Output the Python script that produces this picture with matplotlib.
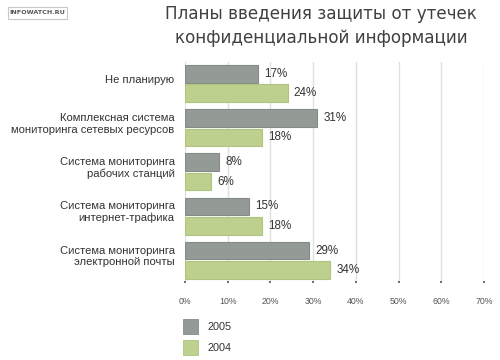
import matplotlib
matplotlib.use("Agg")
import matplotlib.pyplot as plt
from matplotlib.patches import Rectangle

categories = [
    "Не планирую",
    "Комплексная система\nмониторинга сетевых ресурсов",
    "Система мониторинга\nрабочих станций",
    "Система мониторинга\nинтернет-трафика",
    "Система мониторинга\nэлектронной почты",
]
values_2005 = [17, 31, 8, 15, 29]
values_2004 = [24, 18, 6, 18, 34]
series_names = ["2005", "2004"]
xticks = [0, 10, 20, 30, 40, 50, 60, 70]
xtick_labels = ["0%", "10%", "20%", "30%", "40%", "50%", "60%", "70%"]
title = "Планы введения защиты от утечек\nконфиденциальной информации"

C_GRAY = "#949b96"
C_GRAY_E = "#858c87"
C_GREEN = "#bdd08e"
C_GREEN_E = "#b0c47f"

W, H = 500, 360
fig = plt.figure(figsize=(5, 3.6), dpi=100)
fig.patch.set_facecolor("white")

ax_l, ax_r, ax_t, ax_b = 185, 484, 62, 281
ax = fig.add_axes([ax_l / W, 1 - ax_b / H, (ax_r - ax_l) / W, (ax_b - ax_t) / H])

bh = 0.396
off = 0.22
ys = list(range(len(categories)))
ax.barh([y - off for y in ys], values_2005, height=bh, color=C_GRAY,
        edgecolor=C_GRAY_E, linewidth=0.8, zorder=3)
ax.barh([y + off for y in ys], values_2004, height=bh, color=C_GREEN,
        edgecolor=C_GREEN_E, linewidth=0.8, zorder=3)

for y, v in zip(ys, values_2005):
    ax.annotate(f"{v}%", xy=(v, y - off), xytext=(4.5, 0), textcoords="offset points",
                va="center", ha="left", fontsize=8.4, color="#333333",
                family="Liberation Sans")
for y, v in zip(ys, values_2004):
    ax.annotate(f"{v}%", xy=(v, y + off), xytext=(4.5, 0), textcoords="offset points",
                va="center", ha="left", fontsize=8.4, color="#333333",
                family="Liberation Sans")

for y, c in zip(ys, categories):
    ax.annotate(c, xy=(0, y), xycoords=("axes fraction", "data"),
                xytext=(-7.5, 2.8), textcoords="offset points",
                ha="right", va="center", fontsize=8.1, color="#333333",
                family="Liberation Sans", linespacing=1.2, multialignment="right")

ax.set_xlim(0, 70)
ax.set_ylim(4.464, -0.486)
ax.set_xticks(xticks)
ax.set_xticklabels(xtick_labels, fontsize=6.3, color="#555555", family="Liberation Sans")
ax.set_yticks([])
ax.tick_params(axis="x", direction="out", length=1.5, width=1.2, color="#555555", pad=10)
for s in ax.spines.values():
    s.set_visible(False)
ax.grid(axis="x", color="#e0e0e0", linewidth=1, zorder=0)
ax.set_axisbelow(True)

fig.text(321 / W, 1 - 26 / H, title, ha="center", va="center", fontsize=12.1,
         color="#404040", family="DejaVu Sans", linespacing=1.4)

# logo
fig.patches.append(Rectangle((8 / W, 1 - 19 / H), 59 / W, 12.5 / H, transform=fig.transFigure,
                             facecolor="white", edgecolor="#c8c8c8", linewidth=0.8))
fig.text(37.5 / W, 1 - 12.8 / H, "INFOWATCH.RU", ha="center", va="center", fontsize=4.6,
         color="#555555", family="DejaVu Sans", weight="bold")

# legend
for i, (name, col, ec) in enumerate(zip(series_names, [C_GRAY, C_GREEN], [C_GRAY_E, C_GREEN_E])):
    ytop = 319 + i * 21
    fig.patches.append(Rectangle((183 / W, 1 - (ytop + 15) / H), 15 / W, 15 / H,
                                 transform=fig.transFigure, facecolor=col,
                                 edgecolor=ec, linewidth=0.6))
    fig.text(207.5 / W, 1 - (ytop + 8) / H, name, ha="left", va="center", fontsize=7.8,
             color="#333333", family="Liberation Sans")

fig.savefig("out.png", dpi=100, facecolor="white")
